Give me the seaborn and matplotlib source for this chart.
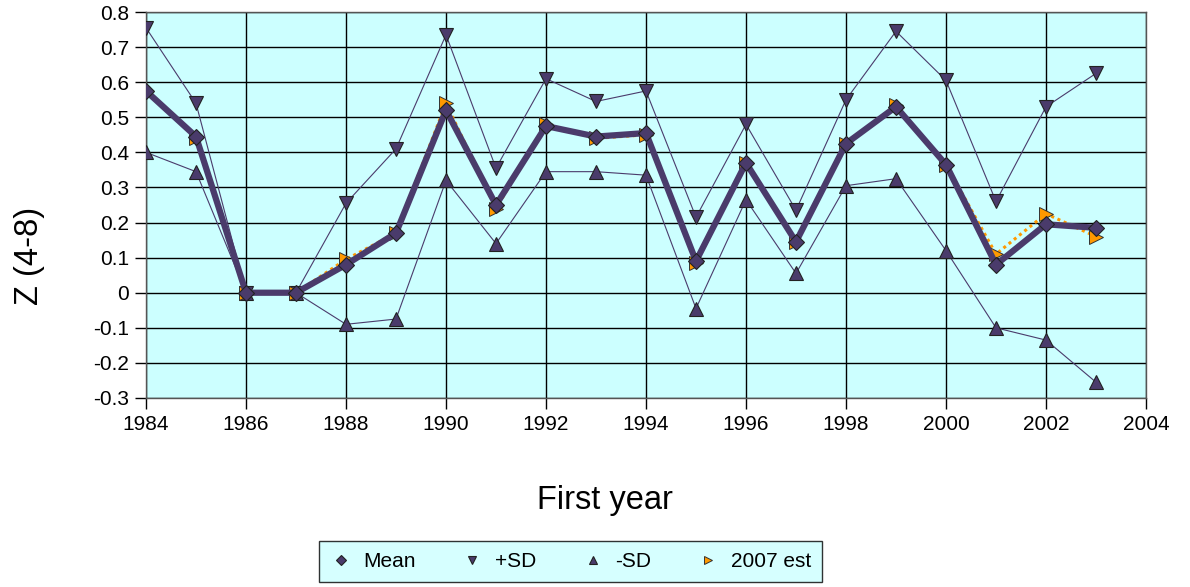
import matplotlib
matplotlib.use("Agg")
import matplotlib.pyplot as plt
import seaborn as sns
import pandas as pd

years = list(range(1984, 2004))
mean_vals = [0.575, 0.445, 0.0, 0.0, 0.08, 0.17, 0.52, 0.25, 0.475, 0.445,
             0.455, 0.09, 0.37, 0.145, 0.425, 0.53, 0.365, 0.08, 0.195, 0.185]
plus_sd = [0.755, 0.54, 0.0, 0.0, 0.255, 0.41, 0.735, 0.355, 0.61, 0.545,
           0.575, 0.215, 0.48, 0.235, 0.55, 0.745, 0.605, 0.26, 0.53, 0.625]
minus_sd = [0.40, 0.345, 0.0, 0.0, -0.09, -0.075, 0.32, 0.14, 0.345, 0.345,
            0.335, -0.045, 0.265, 0.055, 0.305, 0.325, 0.12, -0.10, -0.135, -0.255]
est_2007 = [0.575, 0.44, 0.0, 0.0, 0.095, 0.17, 0.54, 0.24, 0.48, 0.44,
            0.45, 0.085, 0.37, 0.145, 0.425, 0.535, 0.365, 0.11, 0.225, 0.16]

df = pd.DataFrame({"year": years, "Mean": mean_vals, "+SD": plus_sd,
                   "-SD": minus_sd, "2007 est": est_2007})

sns.set_style("white")
plt.rcParams["font.family"] = ["Liberation Sans", "DejaVu Sans"]
plt.rcParams["text.color"] = "black"
plt.rcParams["axes.labelcolor"] = "black"

purple = "#4A3B6B"
orange = "#FF9900"

fig = plt.figure(figsize=(11.9, 5.87), dpi=100)
ax = fig.add_axes([146/1190, 1 - 398/587, 1000/1190, 386/587])
ax.set_facecolor("#CCFFFF")

sns.lineplot(data=df, x="year", y="+SD", ax=ax, color=purple, lw=0.8,
             marker="v", markersize=10, markeredgecolor="#222222",
             markerfacecolor=purple, markeredgewidth=0.8, label="+SD", zorder=3)
sns.lineplot(data=df, x="year", y="-SD", ax=ax, color=purple, lw=0.8,
             marker="^", markersize=10, markeredgecolor="#222222",
             markerfacecolor=purple, markeredgewidth=0.8, label="-SD", zorder=3)
sns.lineplot(data=df, x="year", y="2007 est", ax=ax, color=orange, lw=2.2,
             linestyle=(0, (1, 1.2)), marker=">", markersize=10,
             markeredgecolor="#333333", markerfacecolor=orange,
             markeredgewidth=0.7, label="2007 est", zorder=4)
sns.lineplot(data=df, x="year", y="Mean", ax=ax, color=purple, lw=4.5,
             marker="D", markersize=8, markeredgecolor="#222222",
             markerfacecolor=purple, markeredgewidth=0.8, label="Mean", zorder=5)

ax.set_xlim(1984, 2004)
ax.set_ylim(-0.3, 0.8)
ax.set_xticks(range(1984, 2005, 2))
yt = [round(-0.3 + 0.1 * i, 1) for i in range(12)]
ax.set_yticks(yt)
ax.set_yticklabels(["0" if v == 0 else f"{v:g}" for v in yt])
ax.grid(True, color="black", lw=1.0)
ax.set_axisbelow(True)
ax.tick_params(axis="both", direction="out", length=8, width=1, colors="black",
               labelsize=15, bottom=True, left=True, pad=4)
for s in ax.spines.values():
    s.set_color("#555555")
    s.set_linewidth(1.0)

ax.set_xlabel("First year", fontsize=23.5)
ax.set_ylabel("Z (4-8)", fontsize=23.5)
ax.xaxis.set_label_coords((605 - 146) / 1000, (398 - 485) / 386)
ax.yaxis.set_label_coords((45 - 146) / 1000, (398 - 256) / 386)

ax.get_legend().remove()
h, l = ax.get_legend_handles_labels()
order = [l.index(n) for n in ["Mean", "+SD", "-SD", "2007 est"]]
leg = fig.legend([h[i] for i in order], [l[i] for i in order],
                 loc="center", bbox_to_anchor=(570.5/1190, 1 - 561.5/587),
                 ncol=4, frameon=True, fancybox=False, fontsize=15,
                 handlelength=1.0, markerscale=0.6, columnspacing=2.2,
                 handletextpad=0.6, borderpad=0.55)
for lh in leg.get_lines():
    lh.set_linestyle("none")
leg.get_frame().set_facecolor("#CCFFFF")
leg.get_frame().set_edgecolor("black")
leg.get_frame().set_linewidth(1.0)

fig.savefig("out.png", dpi=100)
